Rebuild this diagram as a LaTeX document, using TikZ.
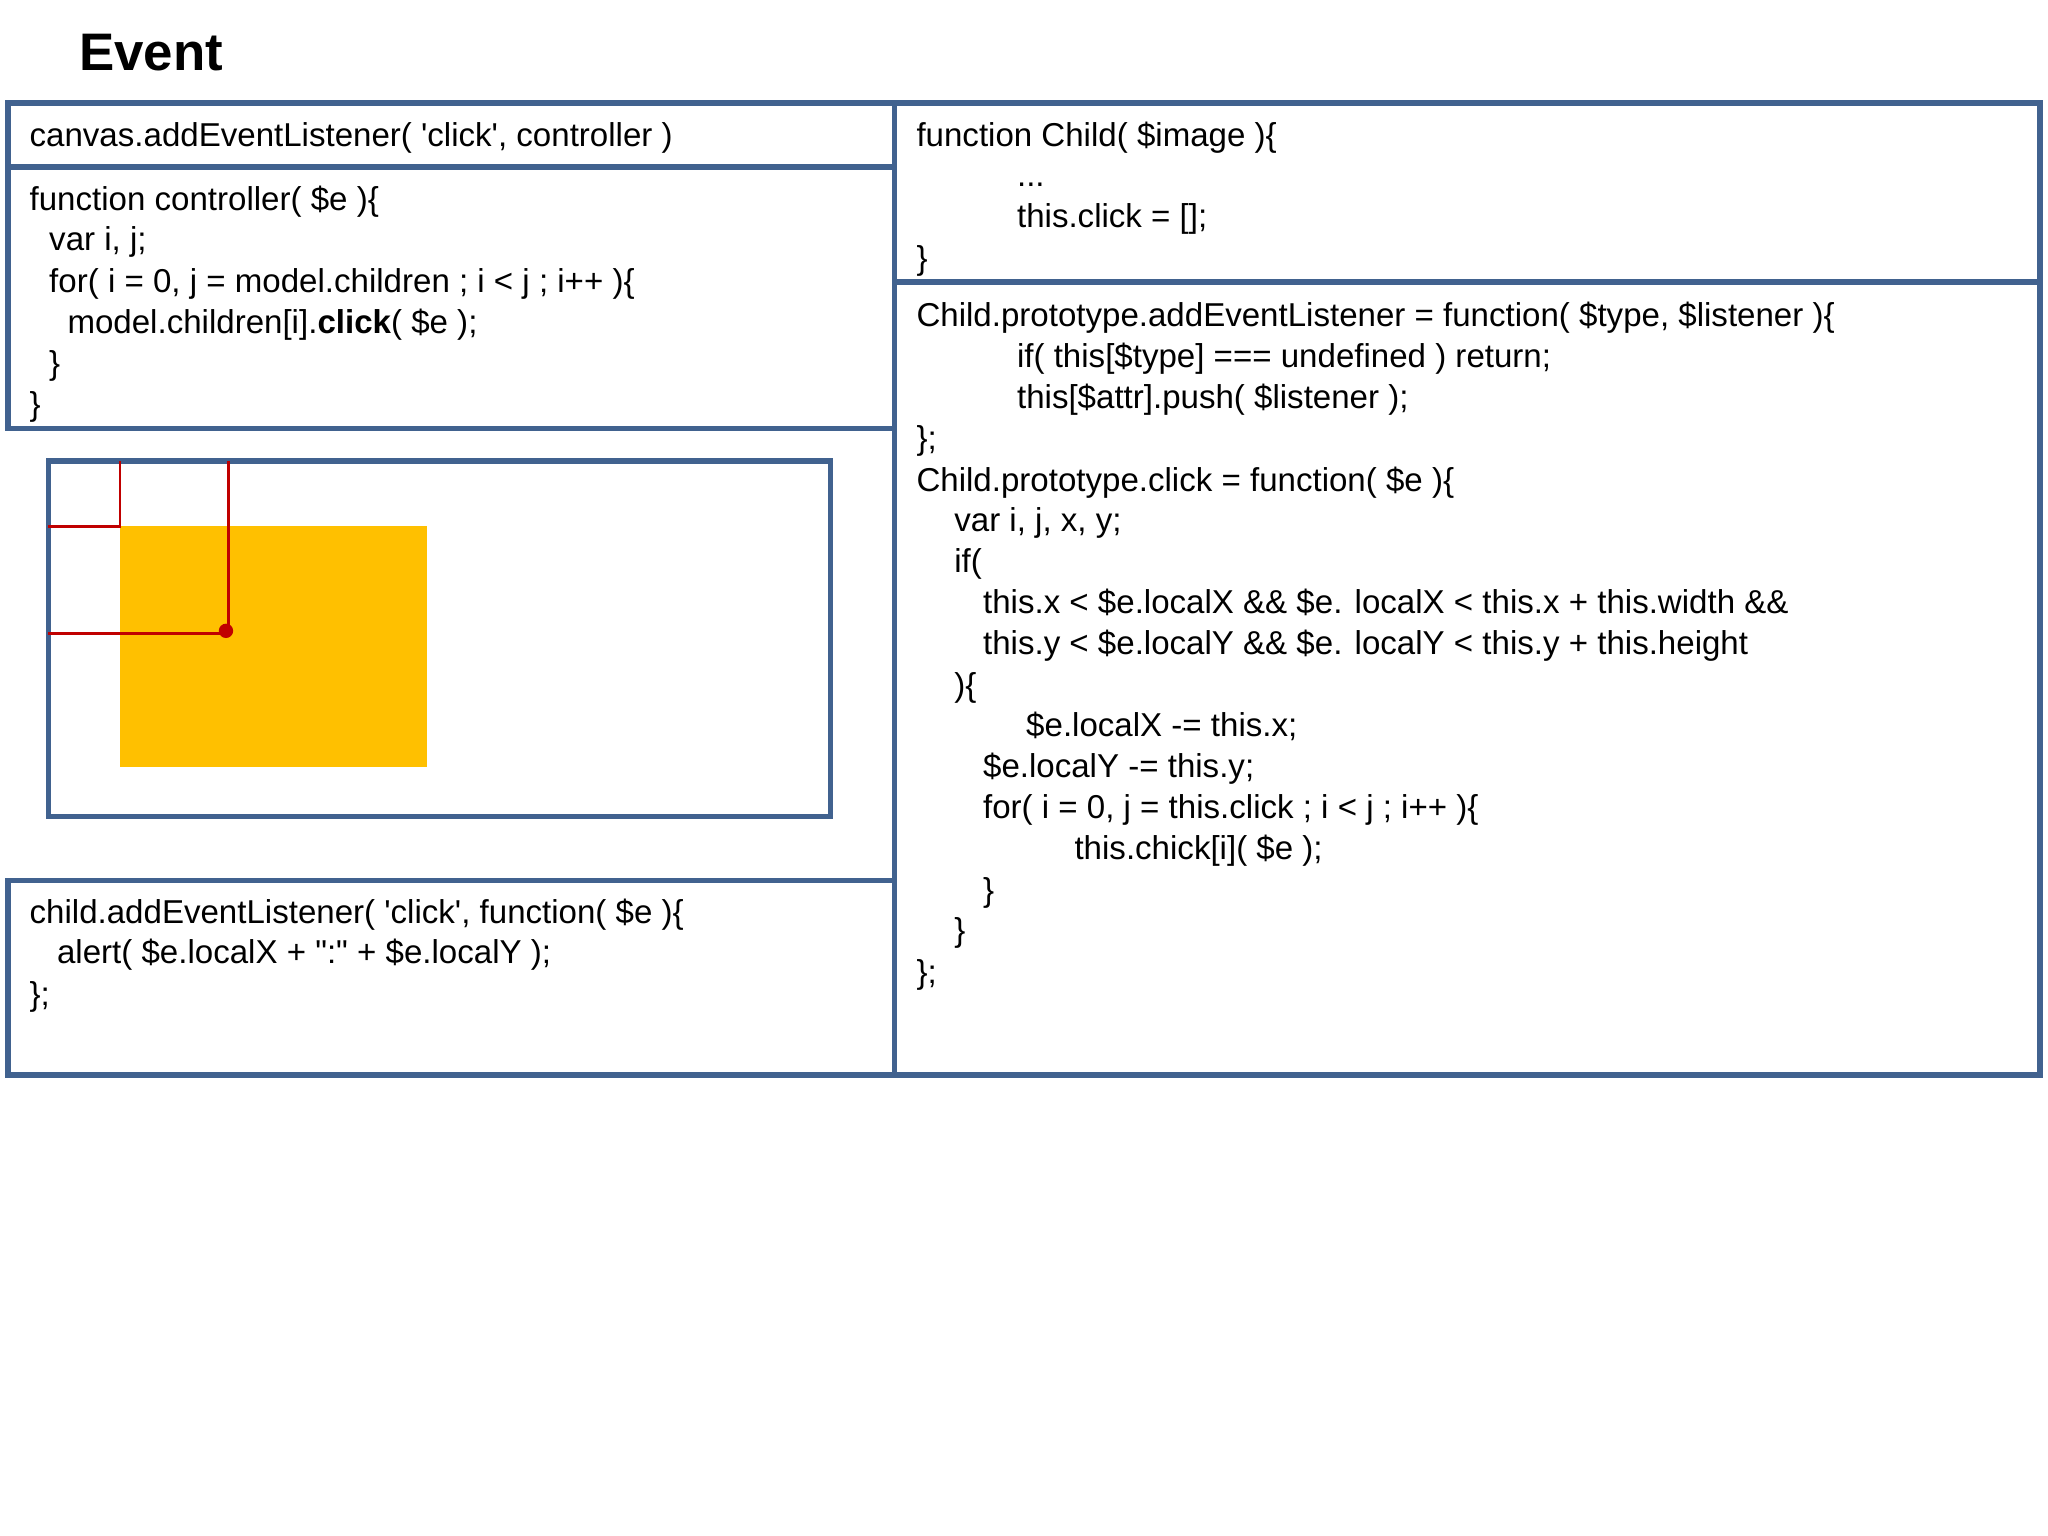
\documentclass[tikz,border=0pt]{standalone}
\usepackage{fontspec}
\setmainfont{Liberation Sans}[Ligatures=TeXOff]
\definecolor{fr}{HTML}{41628F}
\definecolor{yel}{HTML}{FFC000}
\definecolor{rd}{HTML}{C00000}
\begin{document}
\begin{tikzpicture}[x=0.01cm,y=-0.01cm,
  box/.style={draw=fr,line width=1.2pt},
  code/.style={anchor=base west,inner sep=0pt,font=\fontsize{7.2}{9}\selectfont},
  rl/.style={draw=rd,line width=0.5pt}]
\useasboundingbox (0,0) rectangle (1568,1176);
\node[anchor=base west,inner sep=0pt,font=\fontsize{11.5}{13}\selectfont\bfseries] (title) at (60,54) {Event};
% frames
\draw[box] (6,79) rectangle (685,128);
\draw[box] (6,128) rectangle (685,328);
\draw[box] (6,674) rectangle (685,823);
\draw[box] (685,79) rectangle (1562,216);
\draw[box] (685,216) rectangle (1562,823);
\draw[box] (685,328) -- (685,674);
% canvas
\fill[yel] (92,403) rectangle (327,587);
\draw[box] (37,353) rectangle (636,625);
\draw[rl] (92,353) -- (92,403) -- (37,403);
\coordinate (pt) at (173,483);
\draw[rl] (175,353) -- (175,485) -- (37,485);
\fill[rd] (pt) circle (5.5);
% left code
\node[code] (l0) at (22,112) {canvas.addEventListener( 'click', controller )};
\node[code] (l1) at (22,161) {function controller( \$e )\{};
\node[code] (l2) at (37,192) {var i, j;};
\node[code] (l3) at (37,224) {for( i = 0, j = model.children ; i < j ; i++ )\{};
\node[code] (l4) at (51,255) {model.children[i].\textbf{click}( \$e );};
\node[code] (l5) at (37,287) {\}};
\node[code] (l6) at (22,318) {\}};
\node[code] (b1) at (22,707) {child.addEventListener( 'click', function( \$e )\{};
\node[code] (b2) at (43,738) {alert( \$e.localX + ":" + \$e.localY );};
\node[code] (b3) at (22,770) {\};};
% right top
\node[code] (r1) at (701,112) {function Child( \$image )\{};
\node[code] (r2) at (778,143) {...};
\node[code] (r3) at (778,174) {this.click = [];};
\node[code] (r4) at (701,206) {\}};
% right main
\node[code] (s1) at (701,250) {Child.prototype.addEventListener = function( \$type, \$listener )\{};
\node[code] (s2) at (778,281) {if( this[\$type] === undefined ) return;};
\node[code] (s3) at (778,313) {this[\$attr].push( \$listener );};
\node[code] (s4) at (701,344) {\};};
\node[code] (s5) at (701,376) {Child.prototype.click = function( \$e )\{};
\node[code] (s6) at (730,407) {var i, j, x, y;};
\node[code] (s7) at (730,438) {if(};
\node[code] (s8) at (752,470) {this.x < \$e.localX \&\& \$e. localX < this.x + this.width \&\&};
\node[code] (s9) at (752,501) {this.y < \$e.localY \&\& \$e. localY < this.y + this.height};
\node[code] (s10) at (730,533) {)\{};
\node[code] (s11) at (785,564) {\$e.localX -= this.x;};
\node[code] (s12) at (752,595) {\$e.localY -= this.y;};
\node[code] (s13) at (752,627) {for( i = 0, j = this.click ; i < j ; i++ )\{};
\node[code] (s14) at (822,658) {this.chick[i]( \$e );};
\node[code] (s15) at (752,690) {\}};
\node[code] (s16) at (730,721) {\}};
\node[code] (s17) at (701,753) {\};};
\end{tikzpicture}
\end{document}
